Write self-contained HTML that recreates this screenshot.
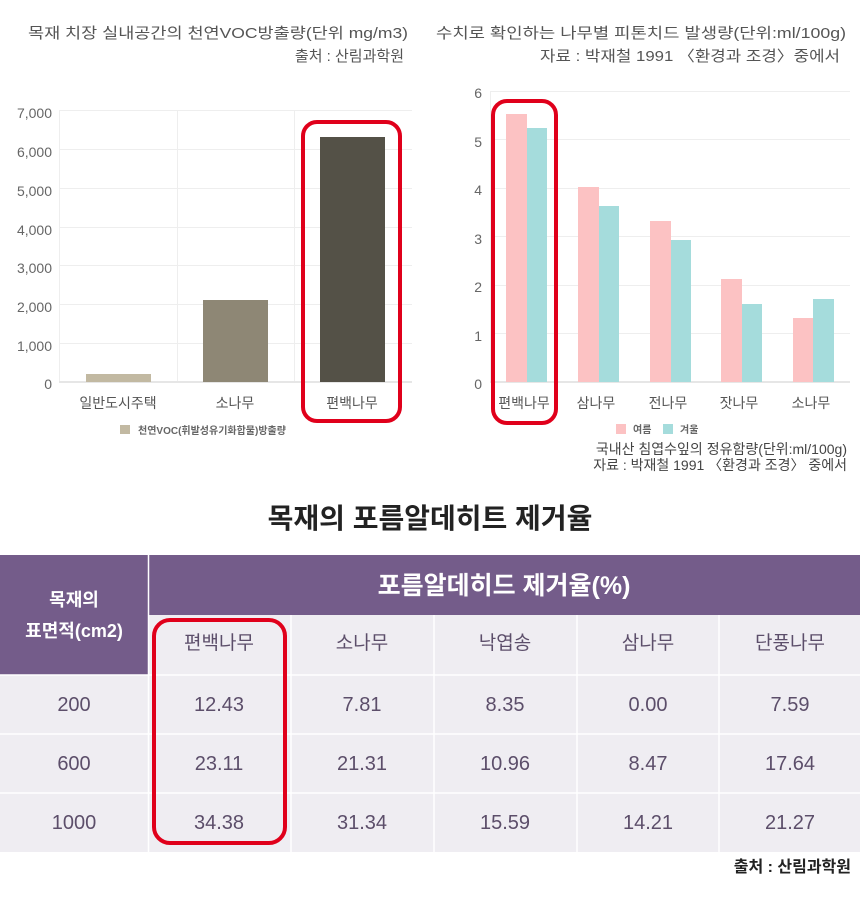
<!DOCTYPE html>
<html><head><meta charset="utf-8">
<style>
html,body{margin:0;padding:0;background:#fff;}
svg{display:block;}
text{font-family:"Liberation Sans","Noto Sans CJK KR",sans-serif;}
</style></head>
<body>
<svg width="860" height="900" viewBox="0 0 860 900" xmlns="http://www.w3.org/2000/svg">
<!-- top titles -->
<g fill="#555" font-size="15" text-anchor="end">
<text x="408" y="38" textLength="380" lengthAdjust="spacingAndGlyphs">목재 치장 실내공간의 천연VOC방출량(단위 mg/m3)</text>
<text x="404" y="61">출처 : 산림과학원</text>
<text x="846" y="38" textLength="410" lengthAdjust="spacingAndGlyphs">수치로 확인하는 나무별 피톤치드 발생량(단위:ml/100g)</text>
<text x="840" y="61" textLength="300" lengthAdjust="spacingAndGlyphs">자료 : 박재철 1991 〈환경과 조경〉중에서</text>
</g>

<!-- LEFT CHART -->
<g stroke="#eeeeee" stroke-width="1">
<line x1="59" y1="110.5" x2="412" y2="110.5"/>
<line x1="59" y1="149.5" x2="412" y2="149.5"/>
<line x1="59" y1="188.5" x2="412" y2="188.5"/>
<line x1="59" y1="227.5" x2="412" y2="227.5"/>
<line x1="59" y1="265.5" x2="412" y2="265.5"/>
<line x1="59" y1="304.5" x2="412" y2="304.5"/>
<line x1="59" y1="343.5" x2="412" y2="343.5"/>
<line x1="59.5" y1="110" x2="59.5" y2="382"/>
<line x1="177.5" y1="110" x2="177.5" y2="382"/>
<line x1="294.5" y1="110" x2="294.5" y2="382"/>
</g>
<line x1="59" y1="382" x2="412" y2="382" stroke="#e6e6e6" stroke-width="2"/>
<rect x="86" y="374" width="65" height="8" fill="#c2b9a2"/>
<rect x="203" y="300" width="65" height="82" fill="#8e8775"/>
<rect x="320" y="137" width="65" height="245" fill="#545147"/>
<g fill="#666" font-size="14" text-anchor="end">
<text x="52" y="118">7,000</text>
<text x="52" y="157">6,000</text>
<text x="52" y="196">5,000</text>
<text x="52" y="235">4,000</text>
<text x="52" y="273">3,000</text>
<text x="52" y="312">2,000</text>
<text x="52" y="351">1,000</text>
<text x="52" y="389">0</text>
</g>
<g fill="#555" font-size="14" text-anchor="middle">
<text x="118" y="408">일반도시주택</text>
<text x="235" y="408">소나무</text>
<text x="352" y="408">편백나무</text>
</g>
<rect x="120" y="425" width="10" height="9" fill="#c2b9a2"/>
<text x="138" y="434" font-size="10" fill="#666" font-weight="bold">천연VOC(휘발성유기화합물)방출량</text>
<rect x="303" y="122" width="97" height="299" rx="14" fill="none" stroke="#e0001b" stroke-width="4"/>

<!-- RIGHT CHART -->
<g stroke="#eeeeee" stroke-width="1">
<line x1="490" y1="91.5" x2="850" y2="91.5"/>
<line x1="490" y1="139.5" x2="850" y2="139.5"/>
<line x1="490" y1="188.5" x2="850" y2="188.5"/>
<line x1="490" y1="236.5" x2="850" y2="236.5"/>
<line x1="490" y1="285.5" x2="850" y2="285.5"/>
<line x1="490" y1="333.5" x2="850" y2="333.5"/>
<line x1="490.5" y1="91" x2="490.5" y2="382"/>
</g>
<line x1="490" y1="382" x2="850" y2="382" stroke="#e6e6e6" stroke-width="2"/>
<g fill="#fcc2c3">
<rect x="506" y="114" width="21" height="268"/>
<rect x="578" y="187" width="21" height="195"/>
<rect x="650" y="221" width="21" height="161"/>
<rect x="721" y="279" width="21" height="103"/>
<rect x="793" y="318" width="20" height="64"/>
</g>
<g fill="#a5dcdc">
<rect x="527" y="128" width="20" height="254"/>
<rect x="599" y="206" width="20" height="176"/>
<rect x="671" y="240" width="20" height="142"/>
<rect x="742" y="304" width="20" height="78"/>
<rect x="813" y="299" width="21" height="83"/>
</g>
<g fill="#666" font-size="14" text-anchor="end">
<text x="482" y="98">6</text>
<text x="482" y="147">5</text>
<text x="482" y="195">4</text>
<text x="482" y="244">3</text>
<text x="482" y="292">2</text>
<text x="482" y="341">1</text>
<text x="482" y="389">0</text>
</g>
<g fill="#555" font-size="14" text-anchor="middle">
<text x="524" y="408">편백나무</text>
<text x="596" y="408">삼나무</text>
<text x="668" y="408">전나무</text>
<text x="739" y="408">잣나무</text>
<text x="811" y="408">소나무</text>
</g>
<rect x="616" y="424" width="10" height="10" fill="#fcc2c3"/>
<text x="633" y="433" font-size="10" fill="#666" font-weight="bold">여름</text>
<rect x="663" y="424" width="10" height="10" fill="#a5dcdc"/>
<text x="680" y="433" font-size="10" fill="#666" font-weight="bold">겨울</text>
<g fill="#444" font-size="14" text-anchor="end">
<text x="847" y="454">국내산 침엽수잎의 정유함량(단위:ml/100g)</text>
<text x="847" y="470">자료 : 박재철 1991 〈환경과 조경〉 중에서</text>
</g>
<rect x="493" y="101" width="63" height="322" rx="14" fill="none" stroke="#e0001b" stroke-width="4"/>

<!-- TABLE TITLE -->
<text x="430" y="528" font-size="28" font-weight="bold" fill="#222" text-anchor="middle">목재의 포름알데히트 제거율</text>

<!-- TABLE -->
<rect x="0" y="555" width="148" height="120" fill="#745c8a"/>
<rect x="149" y="555" width="711" height="60" fill="#745c8a"/>
<rect x="149" y="615" width="711" height="60" fill="#efedf2"/>
<rect x="0" y="675" width="860" height="177" fill="#efedf2"/>
<g stroke="#ffffff" stroke-width="1.5">
<line x1="148.5" y1="555" x2="148.5" y2="852"/>
<line x1="291" y1="615" x2="291" y2="852"/>
<line x1="434" y1="615" x2="434" y2="852"/>
<line x1="577" y1="615" x2="577" y2="852"/>
<line x1="719" y1="615" x2="719" y2="852"/>
<line x1="0" y1="675" x2="860" y2="675"/>
<line x1="0" y1="734" x2="860" y2="734"/>
<line x1="0" y1="793" x2="860" y2="793"/>
</g>
<g fill="#fff" font-weight="bold" text-anchor="middle">
<text x="74" y="606" font-size="18">목재의</text>
<text x="74" y="637" font-size="18">표면적(cm2)</text>
<text x="504" y="594" font-size="25">포름알데히드 제거율(%)</text>
</g>
<g fill="#5c4e6a" font-size="19" text-anchor="middle">
<text x="219" y="649">편백나무</text>
<text x="362" y="649">소나무</text>
<text x="505" y="649">낙엽송</text>
<text x="648" y="649">삼나무</text>
<text x="790" y="649">단풍나무</text>
</g>
<g fill="#5c4e6a" font-size="20" text-anchor="middle">
<text x="74" y="711">200</text><text x="219" y="711">12.43</text><text x="362" y="711">7.81</text><text x="505" y="711">8.35</text><text x="648" y="711">0.00</text><text x="790" y="711">7.59</text>
<text x="74" y="770">600</text><text x="219" y="770">23.11</text><text x="362" y="770">21.31</text><text x="505" y="770">10.96</text><text x="648" y="770">8.47</text><text x="790" y="770">17.64</text>
<text x="74" y="829">1000</text><text x="219" y="829">34.38</text><text x="362" y="829">31.34</text><text x="505" y="829">15.59</text><text x="648" y="829">14.21</text><text x="790" y="829">21.27</text>
</g>
<rect x="154" y="620" width="131" height="223" rx="16" fill="none" stroke="#e0001b" stroke-width="4"/>
<text x="851" y="872" font-size="16" font-weight="bold" fill="#222" text-anchor="end">출처 : 산림과학원</text>
</svg>
</body></html>
